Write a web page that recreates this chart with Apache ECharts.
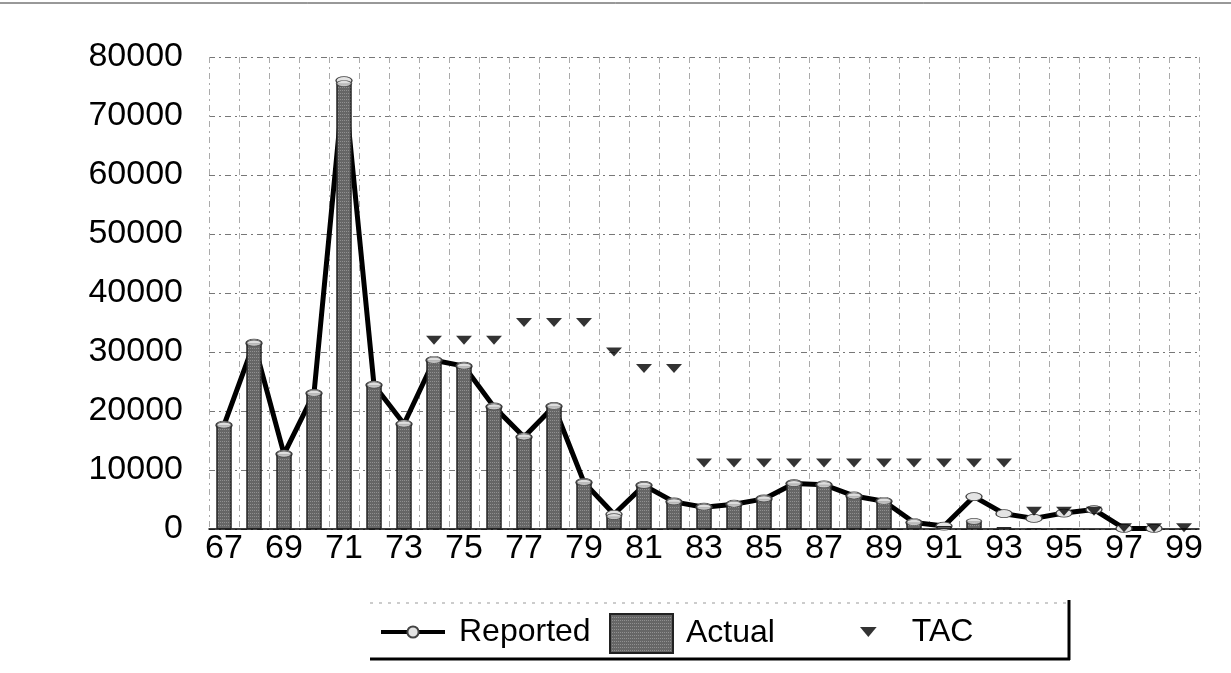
<!DOCTYPE html>
<html>
<head>
<meta charset="utf-8">
<script src="https://cdn.jsdelivr.net/npm/echarts@6/dist/echarts.min.js"></script>
<style>
html,body{margin:0;padding:0;background:#fff;}
#main{width:1231px;height:673px;}
</style>
</head>
<body>
<div id="main"></div>
<script>
var years = ['67','68','69','70','71','72','73','74','75','76','77','78','79','80','81','82','83','84','85','86','87','88','89','90','91','92','93','94','95','96','97','98','99'];
var actual = [17600,31500,12700,23000,75500,24400,17800,28600,27600,20700,15600,20800,7900,2100,7400,4600,3700,4200,5100,7700,7500,5600,4700,1100,500,1300,300,150,100,null,null,null,null];
var reported = [17600,31500,12700,23000,76000,24400,17800,28600,27600,20700,15600,20800,7900,2500,7400,4600,3700,4200,5100,7700,7500,5600,4700,1100,500,5500,2600,1800,2700,3300,100,100,null];
var tac = [null,null,null,null,null,null,null,32000,32000,32000,35000,35000,35000,30000,27200,27200,11200,11200,11200,11200,11200,11200,11200,11200,11200,11200,11200,3000,3000,3000,200,200,200];
var yTicks = [0,10000,20000,30000,40000,50000,60000,70000,80000];

var FONT = 'Liberation Sans, Arial, sans-serif';
var chart = echarts.init(document.getElementById('main'));
var ellipse = 'path://M0,5 A10,5 0 1,0 20,5 A10,5 0 1,0 0,5 Z';
var downTri = 'path://M0,0 L10,0 L5,6 Z';
var gridDash = [6,4,2,4];
// cylinder caps only on bars tall enough to show one
var caps = actual.map(function (v) { return (v !== null && v >= 1000) ? v : null; });

var option = {
  animation: false,
  backgroundColor: '#fff',
  grid: {left: 209, right: 32, top: 57, bottom: 144, containLabel: false},
  xAxis: {
    type: 'category',
    data: years,
    boundaryGap: true,
    axisLine: {show: true, lineStyle: {color: '#000', width: 1.5}},
    axisTick: {show: false},
    axisLabel: {interval: 1, fontSize: 34, fontFamily: FONT, color: '#000', margin: 3},
    splitLine: {show: true, interval: 0, lineStyle: {color: '#aaa', width: 1, type: gridDash}}
  },
  yAxis: {
    type: 'value',
    min: yTicks[0], max: yTicks[yTicks.length-1], interval: yTicks[1]-yTicks[0],
    axisLine: {show: false},
    axisTick: {show: false},
    axisLabel: {fontSize: 34, fontFamily: FONT, color: '#000', margin: 26,
      formatter: function (v) { return String(v); }},
    splitLine: {show: true, lineStyle: {color: '#777', width: 1, type: gridDash}}
  },
  legend: [
    {data: ['Reported'], left: 379, top: 616, itemWidth: 64, itemHeight: 14, padding: 0, selectedMode: false,
     lineStyle: {width: 4, color: '#000'},
     textStyle: {fontSize: 32, fontFamily: FONT, color: '#000', padding: [0,0,0,9]}},
    {data: [{name: 'Actual', icon: 'rect'}], left: 609, top: 613, itemWidth: 63, itemHeight: 39, padding: 0, selectedMode: false,
     textStyle: {fontSize: 32, fontFamily: FONT, color: '#000', padding: [0,0,0,8]}},
    {data: [{name: 'TAC', icon: downTri}], left: 860, top: 616, itemWidth: 17, itemHeight: 10, padding: 0, selectedMode: false,
     textStyle: {fontSize: 32, fontFamily: FONT, color: '#000', padding: [0,0,0,30]}}
  ],
  series: [
    {
      name: 'Reported', type: 'line', data: reported, z: 2,
      symbol: ellipse, symbolSize: [16, 8], showSymbol: true, connectNulls: false,
      lineStyle: {color: '#000', width: 5},
      itemStyle: {color: '#e4e4e4', borderColor: '#444', borderWidth: 1}
    },
    {
      name: 'Actual', type: 'bar', data: actual, z: 3, barWidth: 15,
      itemStyle: {
        color: '#666', borderColor: '#222', borderWidth: 1,
        decal: {symbol: 'rect', symbolSize: 1, color: 'rgba(255,255,255,0.28)', dashArrayX: [1, 1], dashArrayY: [1, 2], rotation: 0}
      }
    },
    {
      name: 'caps', type: 'scatter', data: caps, z: 4, symbol: ellipse, symbolSize: [15, 6],
      itemStyle: {color: '#dcdcdc', borderColor: '#333', borderWidth: 1}, silent: true
    },
    {
      name: 'TAC', type: 'scatter', data: tac, z: 5, symbol: downTri, symbolSize: [16, 9],
      itemStyle: {color: '#000'}
    }
  ],
  graphic: [
    {type: 'line', shape: {x1: 0, y1: 3, x2: 1231, y2: 3}, style: {stroke: '#333', lineWidth: 1}, silent: true},
    {type: 'line', shape: {x1: 370, y1: 603, x2: 1068, y2: 603}, style: {stroke: '#999', lineWidth: 1, lineDash: [3, 6]}, silent: true},
    {type: 'line', shape: {x1: 370, y1: 659, x2: 1070, y2: 659}, style: {stroke: '#000', lineWidth: 3}, silent: true},
    {type: 'line', shape: {x1: 1069, y1: 600, x2: 1069, y2: 660}, style: {stroke: '#000', lineWidth: 3}, silent: true}
  ]
};
chart.setOption(option);
</script>
</body>
</html>
